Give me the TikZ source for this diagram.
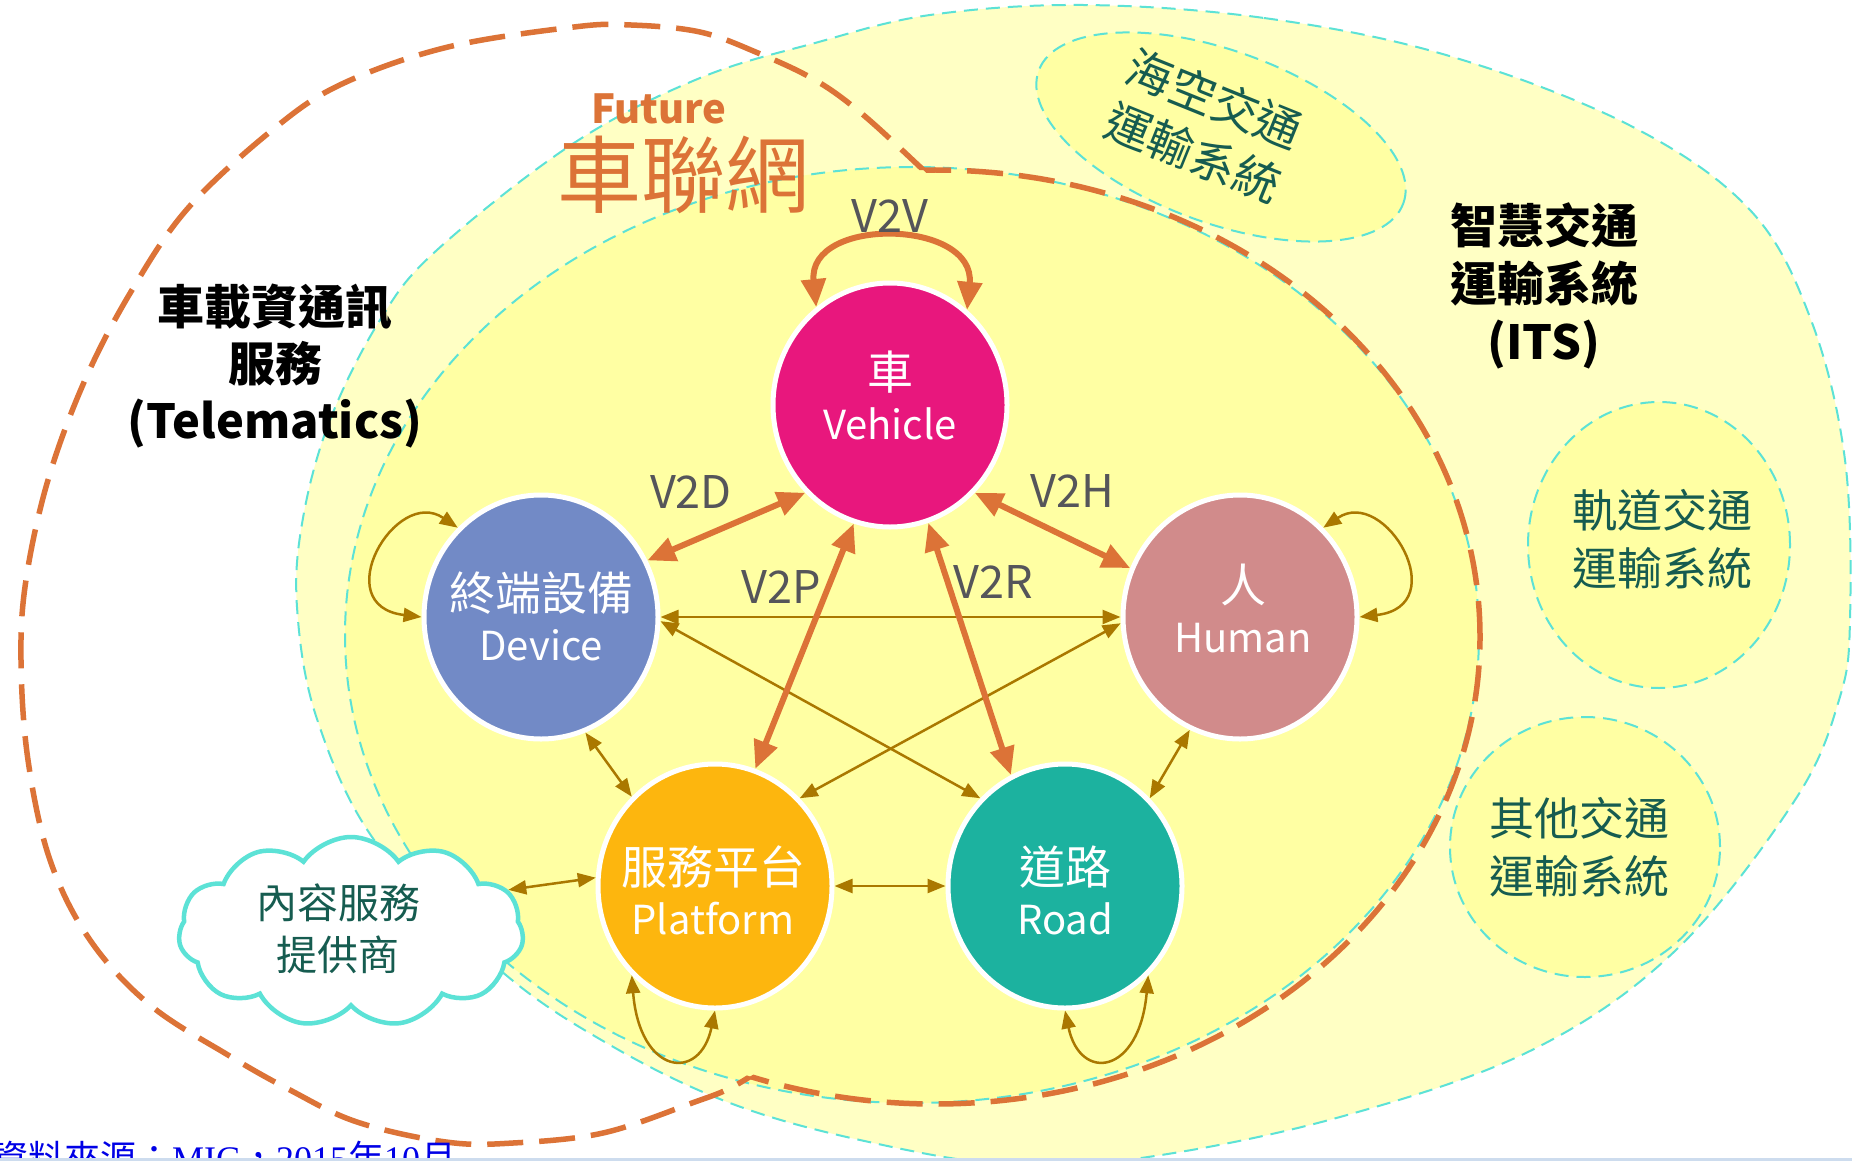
\documentclass[tikz,border=0pt]{standalone}
\usepackage{fontspec}
\setmainfont{Noto Sans CJK TC}
\newfontfamily\serifl{Liberation Serif}
\usetikzlibrary{arrows.meta,shapes.geometric,shapes.symbols}
\definecolor{itsY}{RGB}{255,255,196}
\definecolor{innY}{RGB}{255,255,163}
\definecolor{cyanL}{RGB}{92,226,214}
\definecolor{orangeD}{RGB}{220,115,55}
\definecolor{goldA}{RGB}{170,120,0}
\definecolor{vehC}{RGB}{232,23,125}
\definecolor{devC}{RGB}{114,138,198}
\definecolor{humC}{RGB}{209,139,139}
\definecolor{plaC}{RGB}{253,182,14}
\definecolor{roadC}{RGB}{28,178,159}
\definecolor{grayT}{RGB}{85,85,90}
\definecolor{tealT}{RGB}{22,92,80}
\definecolor{srcB}{RGB}{0,0,230}
\definecolor{edgeB}{RGB}{205,220,238}
\begin{document}
\begin{tikzpicture}[x=1pt,y=-1pt,
  cyandash/.style={draw=cyanL, line width=2pt, dash pattern=on 14pt off 8pt},
  orangedash/.style={draw=orangeD, line width=5.5pt, dash pattern=on 36pt off 16pt},
  hub/.style={ellipse, draw=white, line width=5pt, minimum width=234pt, minimum height=244pt, inner sep=0pt},
  hubtxt/.style={text=white, align=center, inner sep=0pt, font=\fontsize{40}{50}\selectfont},
  vlabel/.style={text=grayT, inner sep=0pt, font=\fontsize{45}{50}\selectfont},
  goldarrow/.style={draw=goldA, line width=2.5pt, >={Triangle[length=18pt,width=14pt]}, <->},
  orangearrow/.style={draw=orangeD, line width=6pt, >={Triangle[length=28pt,width=24pt]}, <->},
  systxt/.style={text=tealT, align=center, inner sep=0pt, font=\fontsize{45}{58}\selectfont},
  bigtxt/.style={text=black, align=center, inner sep=0pt, font=\bfseries\fontsize{47}{58}\selectfont},
]
\useasboundingbox (0,0) rectangle (1852,1161);
\clip (0,0) rectangle (1852,1161);
\fill[white] (0,0) rectangle (1852,1161);

% outer ITS region
\path[fill=itsY, cyandash] plot[smooth cycle, tension=0.6] coordinates {
 (1083,5) (1264,18) (1446,55) (1629,125) (1750,210) (1811,320) (1845,460) (1850,620)
 (1839,700) (1795,800) (1676,950) (1532,1050) (1340,1117) (1148,1157) (1010,1165)
 (860,1140) (730,1103) (610,1045) (500,970) (377,844) (317,719) (297,607) (303,518)
 (330,420) (380,320) (437,250) (574,143) (700,78) (815,43) (930,15)};

% inner region
\path[fill=innY, cyandash] (912,635) ellipse [x radius=567pt, y radius=468pt];

% other systems
\path[fill=innY, cyandash] (1659,545) ellipse [x radius=131pt, y radius=143pt];
\path[fill=innY, cyandash] (1585,847) ellipse [x radius=135pt, y radius=130pt];
\begin{scope}[shift={(1221,137)}, rotate=-20]
\path[fill=innY, cyandash] (0,0) ellipse [x radius=194pt, y radius=86pt];
\end{scope}

% orange dashed union outline
\begin{scope}[even odd rule]
\clip (-50,-50) rectangle (1900,1250) plot[smooth, tension=0.6] coordinates {
 (965,210) (918,165) (861,113) (815,80) (758,53) (700,32) (631,25) (574,27) (448,47)
 (344,83) (276,127) (189,207) (132,290) (85,380) (48,480) (26,580) (21,660) (28,760)
 (50,860) (90,940) (150,1005) (228,1055) (290,1090) (357,1122) (446,1142) (513,1143)
 (603,1133) (692,1103) (736,1085) (790,1050)} -- cycle;
\draw[orangedash] (935,637) ellipse [x radius=545pt, y radius=467pt];
\end{scope}
\begin{scope}[even odd rule]
\clip (-50,-50) rectangle (1900,1250) (935,637) ellipse [x radius=545pt, y radius=467pt];
\draw[orangedash] plot[smooth, tension=0.6] coordinates {
 (965,210) (918,165) (861,113) (815,80) (758,53) (700,32) (631,25) (574,27) (448,47)
 (344,83) (276,127) (189,207) (132,290) (85,380) (48,480) (26,580) (21,660) (28,760)
 (50,860) (90,940) (150,1005) (228,1055) (290,1090) (357,1122) (446,1142) (513,1143)
 (603,1133) (692,1103) (736,1085) (790,1050)};
\end{scope}

% titles
\node[bigtxt, font=\bfseries\fontsize{47}{57}\selectfont] (tele) at (275,366) {車載資通訊\\服務\\(Telematics)};
\node[bigtxt] (itst) at (1544,286) {智慧交通\\運輸系統\\(ITS)};
\node[text=orangeD, inner sep=0pt, font=\bfseries\fontsize{40}{50}\selectfont] (fut) at (659,109) {Future};
\node[text=orangeD, inner sep=0pt, font=\fontsize{84}{96}\selectfont] (cln) at (683,175) {車聯網};

\node[systxt] (rail) at (1662,539) {軌道交通\\運輸系統};
\node[systxt] (other) at (1579,847) {其他交通\\運輸系統};
\node[systxt, font=\fontsize{46}{58}\selectfont, rotate=-22] (seaair) at (1204,126) {海空交通\\運輸系統};

% cloud
\node[cloud, cloud puffs=11, cloud puff arc=110, aspect=1.9, draw=cyanL, line width=4.5pt, fill=white,
      minimum width=345pt, minimum height=190pt, inner sep=0pt] (cl) at (351,932) {};
\node[systxt, font=\fontsize{41}{52}\selectfont] (clt) at (338,929) {內容服務\\提供商};

% hubs
\node[hub, fill=vehC] (veh) at (890,405) {};
\node[hub, fill=devC] (dev) at (541,617) {};
\node[hub, fill=humC] (hum) at (1240,617) {};
\node[hub, fill=plaC] (pla) at (715,886) {};
\node[hub, fill=roadC] (road) at (1065,886) {};
\node[hubtxt] (vehT) at (890,395) {{\fontsize{46}{50}\selectfont 車}\\Vehicle};
\node[hubtxt] (devT) at (541,616) {{\fontsize{46}{50}\selectfont 終端設備}\\Device};
\node[hubtxt] (humT) at (1243,609) {{\fontsize{46}{50}\selectfont 人}\\Human};
\node[hubtxt] (plaT) at (713,890) {{\fontsize{46}{50}\selectfont 服務平台}\\Platform};
\node[hubtxt] (roadT) at (1065,890) {{\fontsize{46}{50}\selectfont 道路}\\Road};

% gold links
\draw[goldarrow] (dev.0) -- (hum.180);
\draw[goldarrow] (dev.-2) -- (road.134);
\draw[goldarrow] (hum.183) -- (pla.46);
\draw[goldarrow] (dev.-69) -- (pla.133);
\draw[goldarrow] (hum.246) -- (road.46);
\draw[goldarrow] (pla.0) -- (road.180);
\draw[goldarrow] (cl.15) -- (pla.176);
\draw[goldarrow] (dev.133) .. controls +(-62,-42) and +(-95,-11) .. (dev.180);
\draw[goldarrow] (hum.47) .. controls +(62,-42) and +(95,-11) .. (hum.0);
\draw[goldarrow] (pla.227) .. controls +(8,100) and +(-15,72) .. (pla.270);
\draw[goldarrow] (road.270) .. controls +(15,72) and +(-9,100) .. (road.313);

% orange V2X links
\draw[orangearrow] (veh.127) .. controls +(-9,-91) and +(9,-91) .. (veh.51);
\draw[orangearrow] (veh.226) -- (dev.28);
\draw[orangearrow] (veh.314) -- (hum.156);
\draw[orangearrow] (veh.253) -- (pla.71);
\draw[orangearrow] (veh.288) -- (road.116);

% labels
\node[vlabel] (l2v) at (890,216) {V2V};
\node[vlabel] (l2d) at (691,492) {V2D};
\node[vlabel] (l2h) at (1072,491) {V2H};
\node[vlabel] (l2p) at (781,587) {V2P};
\node[vlabel] (l2r) at (993,582) {V2R};

% source
\node[anchor=north west, inner sep=0pt, text=srcB, font=\fontsize{36}{40}\selectfont] (src) at (-8,1141)
  {資料來源：{\serifl MIC}，{\serifl 2015}年{\serifl 10}月};
\fill[edgeB] (0,1158) rectangle (1852,1161);
\end{tikzpicture}
\end{document}
